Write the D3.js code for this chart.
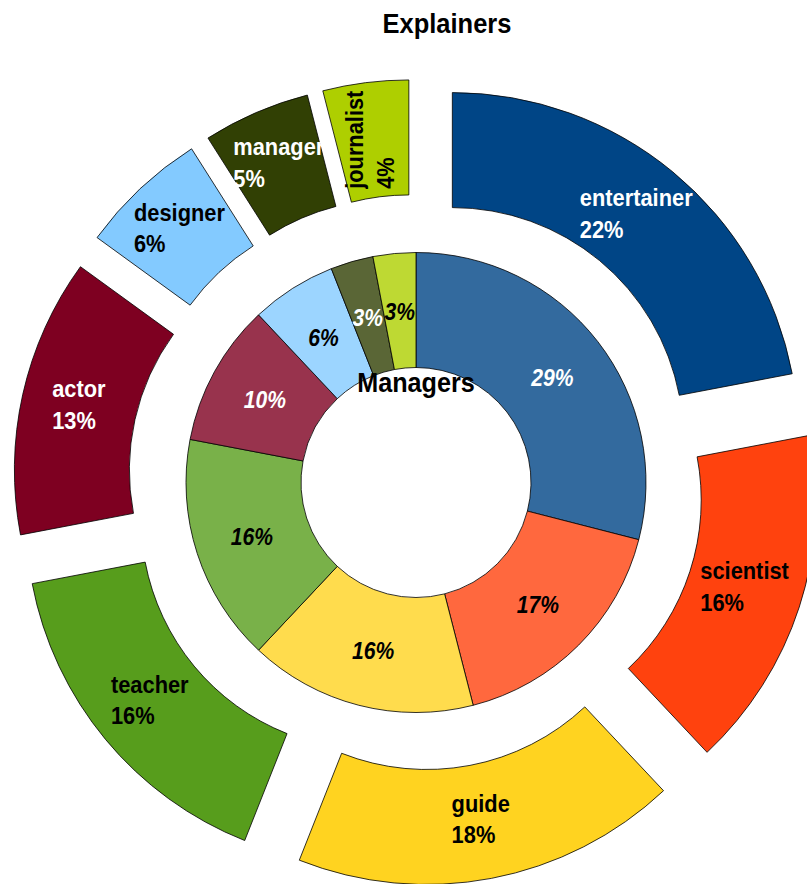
<!DOCTYPE html>
<html>
<head>
<meta charset="utf-8">
<script src="https://cdn.jsdelivr.net/npm/d3@7"></script>
<style>
  html, body { margin: 0; padding: 0; background: #fff; }
  svg { display: block; }
  text { font-family: "Liberation Sans", Arial, sans-serif; font-weight: bold; }
</style>
</head>
<body>
<svg id="chart" width="807" height="884"></svg>
<script>
// Occupations, in ring order (clockwise from 12 o'clock)
const categories = ["entertainer", "scientist", "guide", "teacher", "actor", "designer", "manager", "journalist"];
// Outer ring: Explainers (%)
const explainers = [22, 16, 18, 16, 13, 6, 5, 4];
// Inner ring: Managers (%)
const managers = [29, 17, 16, 16, 10, 6, 3, 3];

// Ring colours
const explainerColors = ["#004586", "#ff420e", "#ffd320", "#579d1c", "#7e0021", "#83caff", "#314004", "#aecf00"];
const managerColors   = ["#336a9e", "#ff683e", "#ffdc4d", "#79b149", "#98334d", "#9cd5ff", "#5a6636", "#bed933"];

// Geometry
const cx = 416, cy = 482.5;
const holeR = 115, innerRingR = 230;
const outerRingIn = 231, outerRingOut = 346;
const explodeBy = 57;
const textScaleX = 0.91;
const rotateBelowPct = 5;

const svg = d3.select("#chart");
const pie = d3.pie().sort(null).value(d => d.value).startAngle(0).endAngle(2 * Math.PI);

const textColor = c => d3.lab(c).l < 50 ? "#ffffff" : "#000000";

function rows(values) {
  const total = d3.sum(values);
  return values.map((v, i) => ({ cat: categories[i], value: v, pct: Math.round(v / total * 100) }));
}

// ---- Outer ring (exploded segments) ----
const outerArc = d3.arc().innerRadius(outerRingIn).outerRadius(outerRingOut);
const outerG = svg.append("g").attr("transform", `translate(${cx},${cy})`);
const outerSlices = pie(rows(explainers));

outerSlices.forEach((s, i) => {
  const mid = (s.startAngle + s.endAngle) / 2;
  const dx = explodeBy * Math.sin(mid), dy = -explodeBy * Math.cos(mid);
  const g = outerG.append("g").attr("transform", `translate(${dx},${dy})`);
  g.append("path")
    .attr("d", outerArc(s))
    .attr("fill", explainerColors[i])
    .attr("stroke", "#000")
    .attr("stroke-width", 0.8);

  const [lx, ly] = outerArc.centroid(s);
  const t = g.append("text")
    .attr("fill", textColor(explainerColors[i]))
    .style("font-size", "24px");
  const lines = [s.data.cat, s.data.pct + "%"];
  const spans = lines.map(str => t.append("tspan").text(str));
  const w = d3.max(spans, sp => sp.node().getComputedTextLength());
  spans.forEach((sp, k) => sp.attr("x", -w / 2).attr("y", k === 0 ? -10 : 21.5));
  const rot = s.data.pct < rotateBelowPct ? -90 : 0;
  t.attr("transform", `translate(${lx},${ly}) rotate(${rot}) scale(${textScaleX},1)`);
});

// ---- Inner ring ----
const innerArc = d3.arc().innerRadius(holeR).outerRadius(innerRingR);
const innerG = svg.append("g").attr("transform", `translate(${cx},${cy})`);
const innerSlices = pie(rows(managers));

innerG.selectAll("path")
  .data(innerSlices)
  .join("path")
  .attr("d", innerArc)
  .attr("fill", (d, i) => managerColors[i])
  .attr("stroke", "#000")
  .attr("stroke-width", 0.8);

innerG.selectAll("text.pct")
  .data(innerSlices)
  .join("text")
  .attr("class", "pct")
  .attr("text-anchor", "middle")
  .attr("fill", (d, i) => textColor(managerColors[i]))
  .style("font-size", "24px")
  .style("font-style", "italic")
  .attr("transform", d => {
    const [x, y] = innerArc.centroid(d);
    return `translate(${x},${y + 9}) scale(0.88,1)`;
  })
  .text(d => d.data.pct + "%");

// ---- Series titles ----
svg.append("text")
  .attr("text-anchor", "middle")
  .style("font-size", "28px")
  .attr("transform", `translate(447,33) scale(${textScaleX},1)`)
  .text("Explainers");

svg.append("text")
  .attr("text-anchor", "middle")
  .style("font-size", "28px")
  .attr("transform", `translate(${cx},392) scale(0.9,1)`)
  .text("Managers");
</script>
</body>
</html>
